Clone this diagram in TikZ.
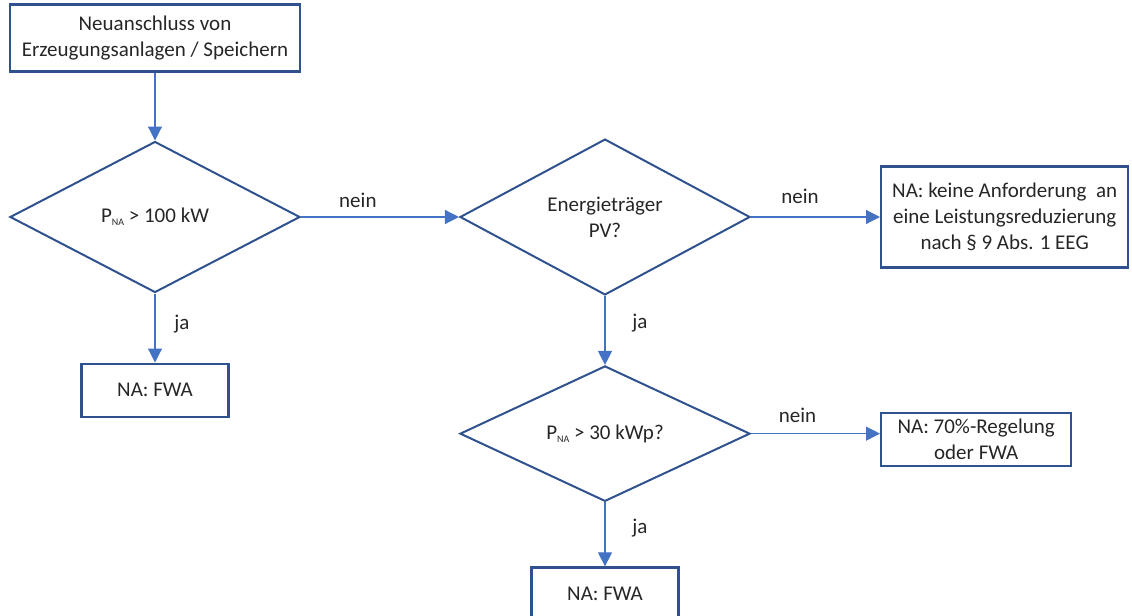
\documentclass[tikz,border=0pt]{standalone}
\usepackage{fontspec}
\setmainfont{Carlito}
\usetikzlibrary{positioning,arrows.meta,shapes.geometric}
\definecolor{boxblue}{HTML}{2F528F}
\definecolor{lineblue}{HTML}{4472C4}
\tikzset{
  box/.style={draw=boxblue, line width=1.2pt, align=center, inner sep=2pt},
  decision/.style={diamond, draw=boxblue, line width=1pt, align=center,
    minimum width=145pt, minimum height=75.5pt, inner sep=0pt},
  flow/.style={draw=lineblue, line width=0.6pt, -{Triangle[length=7pt,width=7pt]}},
}
\newcommand{\pna}{P\raisebox{-1.5pt}{\fontsize{5}{6}\selectfont NA}}

\begin{document}
\begin{tikzpicture}[node distance=34pt, font=\fontsize{10.5}{13}\selectfont, text=black!85]
    \useasboundingbox (0,0) rectangle (566pt,-308pt);

          \node[decision] (p100) at (77.5pt,-108.5pt) {\pna\ > 100 kW};
          \node[box, minimum width=145pt, minimum height=33.5pt] (start) [above=of p100]
                {Neuanschluss von\\Erzeugungsanlagen / Speichern};
          \node[box, minimum width=73.5pt, minimum height=26.5pt] (fwa1) [below=34.5pt of p100] {NA: FWA};
          \node[decision] (pv)  [right=79pt of p100] {Energieträger\\PV?};
          \node[box, minimum width=123.5pt, minimum height=50.5pt] (none) [right=64.5pt of pv]
                {NA: keine Anforderung\ \ an\\eine Leistungsreduzierung\\nach § 9 Abs. 1 EEG};
          \node[decision, minimum height=65.5pt] (p30) [below=34.5pt of pv] {\pna\ > 30 kWp?};
          \node[box, minimum width=95pt, minimum height=26.5pt] (rule70) [right=64.5pt of p30, yshift=-3pt]
                {NA: 70\%-Regelung\\oder FWA};
          \node[box, minimum width=73.5pt, minimum height=26.5pt] (fwa2) [below=32pt of p30] {NA: FWA};

          \draw[flow] (start) -- (p100);
          \draw[flow] (p100) -- node[above=1pt, pos=0.36] {nein} (pv);
          \draw[flow] (p100) -- node[right=6pt, pos=0.45] {ja} (fwa1);
          \draw[flow] (pv) -- node[above=3pt, pos=0.38] {nein} (none);
          \draw[flow] (pv) -- node[right=10pt, pos=0.4] {ja} (p30);
          \draw[flow] (p30.east) -- node[above=2pt, pos=0.36] {nein} (p30.east -| rule70.west);
          \draw[flow] (p30) -- node[right=10pt, pos=0.4] {ja} (fwa2);
\end{tikzpicture}
\end{document}
